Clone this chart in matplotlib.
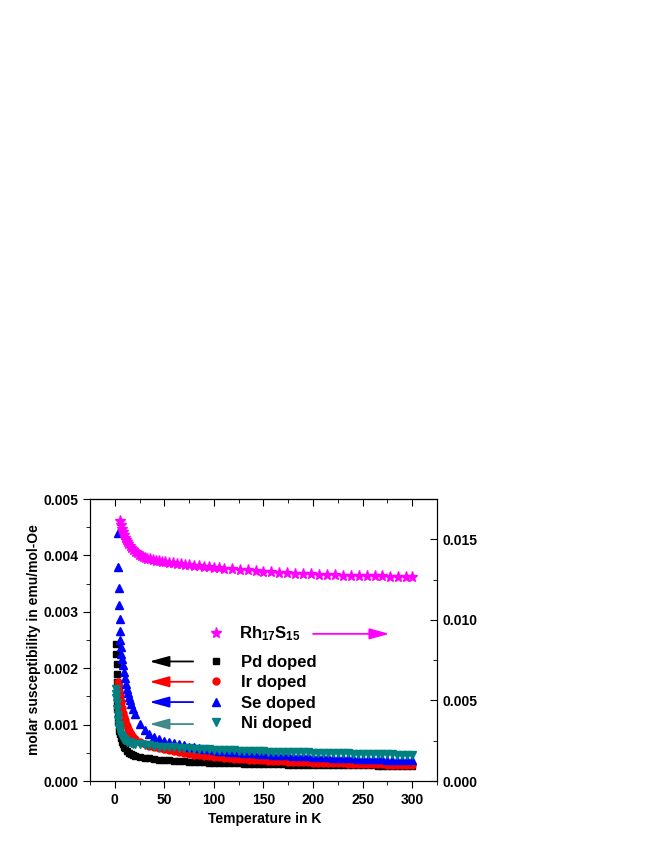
import numpy as np
import matplotlib
matplotlib.use('Agg')
import matplotlib.pyplot as plt
from matplotlib.ticker import MultipleLocator, FormatStrFormatter
from matplotlib.lines import Line2D

plt.rcParams['font.family'] = 'Liberation Sans'
plt.rcParams['font.weight'] = 'bold'
plt.rcParams['mathtext.fontset'] = 'custom'
plt.rcParams['mathtext.rm'] = 'Liberation Sans:bold'
plt.rcParams['mathtext.bf'] = 'Liberation Sans:bold'

# shared temperature grid above 20 K
temp_grid = [20, 25, 30, 35, 40, 45, 50, 55, 60, 65,
             70, 75, 80, 85, 90, 95, 100, 105, 110, 115,
             120, 125, 130, 135, 140, 145, 150, 155, 160, 165,
             170, 175, 180, 185, 190, 195, 200, 205, 210, 215,
             220, 225, 230, 235, 240, 245, 250, 255, 260, 265,
             270, 275, 280, 285, 290, 295, 300]

# Pd doped (x1e-3 emu/mol-Oe)
pd_temp_low = [1.6, 1.7, 1.8, 1.9, 2.0, 2.2, 2.4, 2.7, 3.0, 3.5, 4, 4.5, 5, 6, 7, 8, 9, 10, 12, 14, 16, 18]
pd_chi_low = [2.43, 2.25, 2.07, 1.90, 1.75, 1.58, 1.42, 1.28, 1.16, 1.05, 0.96, 0.89, 0.84, 0.76, 0.70,
              0.65, 0.61, 0.58, 0.53, 0.50, 0.48, 0.46]
pd_chi_grid = [0.44, 0.425, 0.41, 0.40, 0.39, 0.38, 0.372, 0.365, 0.358, 0.352,
               0.347, 0.342, 0.338, 0.334, 0.330, 0.327, 0.324, 0.321, 0.318, 0.316,
               0.313, 0.311, 0.309, 0.307, 0.305, 0.303, 0.301, 0.300, 0.298, 0.296,
               0.295, 0.293, 0.292, 0.291, 0.289, 0.288, 0.287, 0.286, 0.285, 0.284,
               0.283, 0.282, 0.281, 0.280, 0.279, 0.278, 0.278, 0.277, 0.276, 0.275,
               0.275, 0.274, 0.273, 0.273, 0.272, 0.272, 0.271]

# Ir doped
ir_temp_low = [3.5, 4, 4.5, 5, 5.5, 6, 7, 8, 9, 10, 11, 12, 13, 14, 15, 16, 18]
ir_chi_low = [1.76, 1.68, 1.60, 1.53, 1.46, 1.40, 1.30, 1.21, 1.14, 1.08, 1.02, 0.97, 0.93, 0.89, 0.86, 0.83, 0.78]
ir_chi_grid = [0.74, 0.69, 0.65, 0.62, 0.60, 0.58, 0.56, 0.545, 0.53, 0.515,
               0.50, 0.485, 0.47, 0.46, 0.45, 0.44, 0.43, 0.42, 0.412, 0.405,
               0.398, 0.392, 0.386, 0.38, 0.375, 0.37, 0.365, 0.36, 0.356, 0.352,
               0.348, 0.344, 0.34, 0.337, 0.334, 0.331, 0.328, 0.325, 0.322, 0.319,
               0.316, 0.313, 0.311, 0.309, 0.307, 0.305, 0.303, 0.301, 0.299, 0.297,
               0.295, 0.293, 0.292, 0.291, 0.29, 0.289, 0.288]

# Se doped
se_temp_low = [3.3, 3.7, 4.1, 4.5, 4.9, 5.3, 5.7, 6.1, 6.6, 7.2, 8, 9, 10, 11, 12, 13, 14, 15, 16, 18]
se_chi_low = [4.39, 3.80, 3.43, 3.13, 2.88, 2.66, 2.50, 2.37, 2.26, 2.16, 2.05, 1.93, 1.82, 1.72, 1.63,
              1.56, 1.49, 1.43, 1.37, 1.27]
se_chi_grid = [1.19, 1.02, 0.91, 0.83, 0.78, 0.74, 0.71, 0.69, 0.67, 0.65,
               0.63, 0.61, 0.60, 0.585, 0.57, 0.56, 0.55, 0.54, 0.53, 0.52,
               0.515, 0.51, 0.50, 0.495, 0.49, 0.485, 0.48, 0.475, 0.47, 0.465,
               0.46, 0.455, 0.45, 0.445, 0.44, 0.436, 0.432, 0.428, 0.424, 0.42,
               0.416, 0.412, 0.408, 0.404, 0.40, 0.397, 0.394, 0.391, 0.388, 0.385,
               0.382, 0.379, 0.376, 0.373, 0.37, 0.367, 0.365]

# Ni doped
ni_temp_low = [1.0, 1.3, 1.6, 2.0, 2.5, 3.0, 3.5, 4, 4.5, 5, 6, 7, 8, 9, 10, 12, 14, 16, 18]
ni_chi_low = [1.63, 1.55, 1.47, 1.38, 1.27, 1.17, 1.08, 1.00, 0.94, 0.89, 0.82, 0.78, 0.75, 0.73, 0.72,
              0.70, 0.685, 0.675, 0.665]
ni_chi_grid = [0.66, 0.65, 0.64, 0.63, 0.62, 0.61, 0.605, 0.60, 0.595, 0.59,
               0.585, 0.58, 0.575, 0.57, 0.565, 0.56, 0.555, 0.552, 0.549, 0.546,
               0.543, 0.54, 0.537, 0.534, 0.531, 0.528, 0.525, 0.522, 0.52, 0.518,
               0.516, 0.514, 0.512, 0.51, 0.508, 0.506, 0.504, 0.502, 0.50, 0.498,
               0.496, 0.494, 0.492, 0.49, 0.488, 0.486, 0.484, 0.482, 0.48, 0.478,
               0.476, 0.474, 0.472, 0.47, 0.468, 0.467, 0.466]

# Rh17S15 on right axis (x1e-2)
rh_temp = [5.7, 6.5, 7.5, 8.5, 9.5, 10.5, 11.5, 12.5, 13.5, 15,
           16.5, 18, 20, 22, 24, 26, 28, 30, 33, 36,
           39, 42, 45, 48, 51, 55, 59, 63, 67, 71,
           75, 80, 85, 90, 95, 100, 105, 110, 118, 126,
           134, 142, 150, 158, 166, 174, 182, 190, 198, 206,
           214, 222, 230, 238, 246, 254, 262, 270, 278, 286,
           294, 300]
rh_chi = [1.615, 1.59, 1.565, 1.545, 1.525, 1.51, 1.495, 1.483, 1.472, 1.458,
          1.445, 1.435, 1.423, 1.413, 1.405, 1.398, 1.392, 1.387, 1.381, 1.376,
          1.372, 1.368, 1.364, 1.361, 1.358, 1.355, 1.352, 1.349, 1.346, 1.343,
          1.340, 1.337, 1.334, 1.331, 1.328, 1.325, 1.322, 1.319, 1.315, 1.311,
          1.307, 1.303, 1.299, 1.296, 1.293, 1.290, 1.287, 1.285, 1.283, 1.281,
          1.279, 1.277, 1.275, 1.274, 1.273, 1.272, 1.271, 1.270, 1.269, 1.268,
          1.267, 1.266]

fig = plt.figure(figsize=(6.54, 8.46), dpi=100)
ax = fig.add_axes([0.1376, 0.0768, 0.5306, 0.3333])

series = [
    (pd_temp_low, pd_chi_low, pd_chi_grid, 's', 'black', 4.5, 'Pd doped'),
    (ir_temp_low, ir_chi_low, ir_chi_grid, 'o', 'red', 5, 'Ir doped'),
    (se_temp_low, se_chi_low, se_chi_grid, '^', 'blue', 5.5, 'Se doped'),
    (ni_temp_low, ni_chi_low, ni_chi_grid, 'v', '#008080', 5.5, 'Ni doped'),
]
handles = []
for tl, cl, cg, mk, col, ms, lab in series:
    t = np.array(tl + temp_grid)
    c = np.array(cl + cg) * 1e-3
    ax.plot(t, c, linestyle='none', marker=mk, color=col, ms=ms, mec=col)
    handles.append(Line2D([], [], linestyle='none', marker=mk, color=col, ms=ms, label=lab))

ax.set_xlim(-25, 325)
ax.set_ylim(0, 0.005)
ax.xaxis.set_major_locator(MultipleLocator(50))
ax.xaxis.set_minor_locator(MultipleLocator(25))
ax.yaxis.set_major_locator(MultipleLocator(0.001))
ax.yaxis.set_minor_locator(MultipleLocator(0.0005))
ax.yaxis.set_major_formatter(FormatStrFormatter('%.3f'))
ax.tick_params(which='both', direction='out', top=False, right=False, labelsize=10)
ax.tick_params(which='major', length=5)
ax.tick_params(which='minor', length=3)
ax.set_xlabel('Temperature in K', fontsize=10, fontweight='bold')
ax.set_ylabel('molar susceptibility in emu/mol-Oe', fontsize=10, fontweight='bold')
ax.xaxis.set_label_coords(0.503, -0.110)
ax.yaxis.set_label_coords(-0.141, 0.5)

# top axis ticks pointing in
sec = ax.secondary_xaxis('top')
sec.xaxis.set_major_locator(MultipleLocator(50))
sec.xaxis.set_minor_locator(MultipleLocator(25))
sec.tick_params(which='both', direction='in', labeltop=False)
sec.tick_params(which='major', length=5)
sec.tick_params(which='minor', length=3)

ax.legend(handles=handles, loc='upper left', bbox_to_anchor=(0.32, 0.472),
          frameon=False, fontsize=12, handlelength=1.0, handletextpad=1.0,
          labelspacing=0.33, borderaxespad=0)

ax2 = ax.twinx()
ax2.plot(np.array(rh_temp), np.array(rh_chi) * 1e-2, linestyle='none', marker='*',
         color='#ff00ff', ms=8)
ax2.set_ylim(0, 0.0175)
ax2.yaxis.set_major_locator(MultipleLocator(0.005))
ax2.yaxis.set_minor_locator(MultipleLocator(0.0025))
ax2.yaxis.set_major_formatter(FormatStrFormatter('%.3f'))
ax2.tick_params(which='both', direction='in', labelsize=10, pad=4)
ax2.tick_params(which='major', length=5)
ax2.tick_params(which='minor', length=3)

rh_handle = Line2D([], [], linestyle='none', marker='*', color='#ff00ff', ms=8,
                   label=r'$\mathbf{Rh_{17}S_{15}}$')
ax2.legend(handles=[rh_handle], loc='upper left', bbox_to_anchor=(0.32, 0.578),
           frameon=False, fontsize=12, handlelength=1.0, handletextpad=0.9,
           borderaxespad=0)

# arrows pointing to the axis each curve belongs to
arrow_kw = dict(arrowstyle='-|>,head_length=0.8,head_width=0.22', mutation_scale=15, lw=1.3,
                shrinkA=0, shrinkB=0)
ax.annotate('', xy=(277, 0.00261), xytext=(200, 0.00261),
            arrowprops=dict(color='#ff00ff', **arrow_kw))
for y, col in [(0.00212, 'black'), (0.00176, 'red'), (0.0014, 'blue'), (0.00101, '#408a8a')]:
    ax.annotate('', xy=(35, y), xytext=(79, y), arrowprops=dict(color=col, **arrow_kw))

fig.savefig('out.png', dpi=100)
